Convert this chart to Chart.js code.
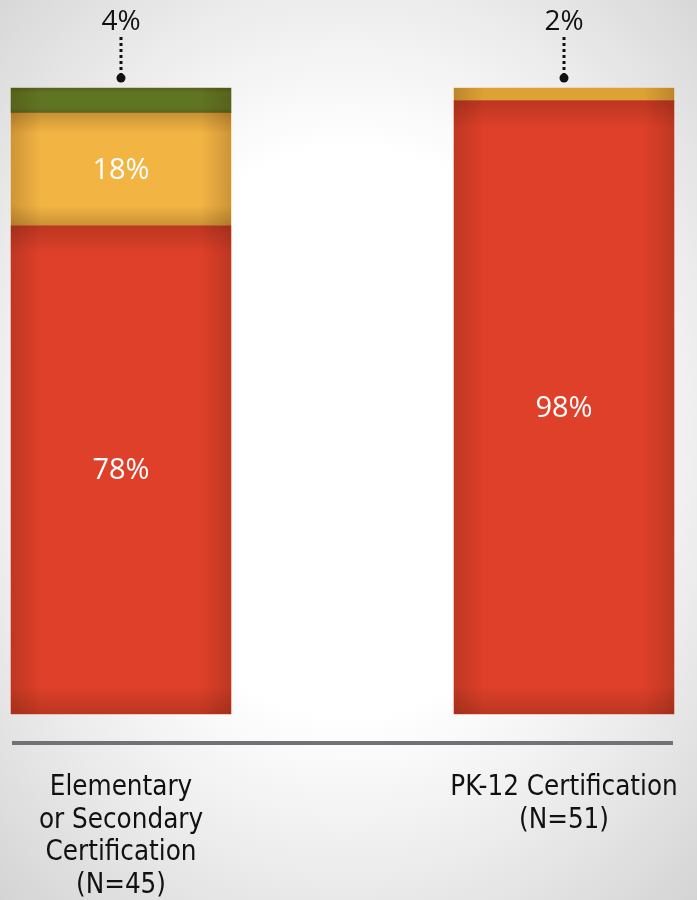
<!DOCTYPE html>
<html>
<head>
<meta charset="utf-8">
<script src="https://cdn.jsdelivr.net/npm/chart.js@4.4.1/dist/chart.umd.min.js"></script>
<style>
  html, body { margin: 0; padding: 0; }
  body {
    width: 697px; height: 900px; overflow: hidden;
    background: radial-gradient(ellipse 75% 70% at 50% 48%, #ffffff 45%, #ececec 70%, #d4d4d4 100%);
  }
  #wrap { position: relative; width: 697px; height: 900px; }
</style>
</head>
<body>
<div id="wrap"><canvas id="c" width="697" height="900"></canvas></div>
<script>
// ---- Data ----
const categories = [
  ["Elementary", "or Secondary", "Certification", "(N=45)"],
  ["PK-12 Certification", "(N=51)"]
];
const seriesNames = ["Red", "Yellow", "Green"];
const redValues = [78, 98];
const yellowValues = [18, 2];
const greenValues = [4, null];

const seriesColors = ["#df402a", "#f2b544", "#5f7523"];
const seriesColors2 = ["#df402a", "#dda236", "#5f7523"];

const LABEL_FONT = "'Open Sans', 'Noto Sans', sans-serif";
const AXIS_FONT = "'Liberation Sans Narrow', 'DejaVu Sans Condensed', 'Noto Sans', sans-serif";

// shading + labels plugin
const barDecor = {
  id: 'barDecor',
  afterDatasetsDraw(chart) {
    const ctx = chart.ctx;
    const nSets = chart.data.datasets.length;
    const topIdx = [];
    chart.data.labels.forEach((_, i) => {
      let t = -1;
      for (let d = 0; d < nSets; d++) {
        const v = chart.data.datasets[d].data[i];
        if (v != null && v > 0) t = d;
      }
      topIdx.push(t);
    });
    for (let d = 0; d < nSets; d++) {
      const meta = chart.getDatasetMeta(d);
      meta.data.forEach((el, i) => {
        const v = chart.data.datasets[d].data[i];
        if (v == null || v <= 0) return;
        const p = el.getProps(['x', 'y', 'base', 'width'], true);
        const left = p.x - p.width / 2, right = p.x + p.width / 2;
        const top = Math.min(p.y, p.base), bottom = Math.max(p.y, p.base);
        const h = bottom - top;
        ctx.save();
        let g = ctx.createLinearGradient(left, 0, right, 0);
        g.addColorStop(0, 'rgba(60,20,0,0.20)');
        g.addColorStop(0.14, 'rgba(60,20,0,0)');
        g.addColorStop(0.86, 'rgba(60,20,0,0)');
        g.addColorStop(1, 'rgba(60,20,0,0.20)');
        ctx.fillStyle = g;
        ctx.fillRect(left, top, p.width, h);
        if (h > 20) {
          const e = Math.min(28, h * 0.18) / h;
          g = ctx.createLinearGradient(0, top, 0, bottom);
          g.addColorStop(0, 'rgba(60,20,0,0.22)');
          g.addColorStop(e, 'rgba(60,20,0,0)');
          g.addColorStop(1 - e, 'rgba(60,20,0,0)');
          g.addColorStop(1, 'rgba(60,20,0,0.22)');
          ctx.fillStyle = g;
          ctx.fillRect(left, top, p.width, h);
        }
        ctx.restore();

        ctx.save();
        if (v >= 10) {
          ctx.fillStyle = '#ffffff';
          ctx.font = "29px " + LABEL_FONT;
          ctx.textAlign = 'center';
          ctx.textBaseline = 'middle';
          ctx.fillText(v + '%', p.x, (top + bottom) / 2 + 1);
        } else if (d === topIdx[i]) {
          ctx.fillStyle = '#111';
          ctx.font = "28px " + LABEL_FONT;
          ctx.textAlign = 'center';
          ctx.textBaseline = 'middle';
          ctx.fillText(v + '%', p.x, top - 66);
          ctx.strokeStyle = '#111';
          ctx.lineWidth = 3;
          ctx.setLineDash([3, 3]);
          ctx.beginPath();
          ctx.moveTo(p.x, top - 51);
          ctx.lineTo(p.x, top - 13);
          ctx.stroke();
          ctx.setLineDash([]);
          ctx.beginPath();
          ctx.arc(p.x, top - 10, 4.5, 0, Math.PI * 2);
          ctx.fill();
        }
        ctx.restore();
      });
    }
    const ca = chart.chartArea;
    ctx.save();
    ctx.strokeStyle = '#717176';
    ctx.lineWidth = 4;
    ctx.beginPath();
    ctx.moveTo(12, ca.bottom + 29);
    ctx.lineTo(673, ca.bottom + 29);
    ctx.stroke();
    ctx.restore();
  }
};

const valueSets = [redValues, yellowValues, greenValues];
new Chart(document.getElementById('c'), {
  type: 'bar',
  data: {
    labels: categories,
    datasets: valueSets.map((vals, k) => ({
      label: seriesNames[k],
      data: vals,
      backgroundColor: [seriesColors[k], seriesColors2[k]],
      borderWidth: 0,
      barThickness: 220,
      clip: false
    }))
  },
  options: {
    responsive: false,
    animation: false,
    events: [],
    layout: { padding: { left: 121, right: 133, top: 88, bottom: 0 } },
    plugins: { legend: { display: false }, tooltip: { enabled: false } },
    scales: {
      x: {
        stacked: true,
        offset: false,
        grid: { display: false, drawTicks: false },
        border: { display: false },
        ticks: {
          color: '#111',
          padding: 58,
          maxRotation: 0,
          autoSkip: false,
          font: { family: AXIS_FONT, size: 27.5, lineHeight: 1.18 }
        },
        afterFit(scale) {
          scale.height = 186;
          scale.paddingLeft = 0;
          scale.paddingRight = 0;
        }
      },
      y: {
        stacked: true,
        display: false,
        min: 0,
        max: 100
      }
    }
  },
  plugins: [barDecor]
});
</script>
</body>
</html>
